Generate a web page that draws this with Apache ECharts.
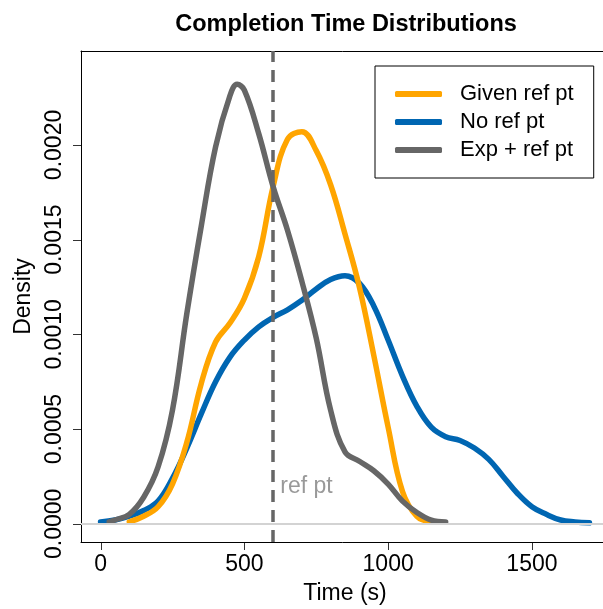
<!DOCTYPE html>
<html>
<head>
<meta charset="utf-8">
<script src="https://cdn.jsdelivr.net/npm/echarts@6/dist/echarts.min.js"></script>
<style>
html,body{margin:0;padding:0;background:#fff;overflow:hidden;}
#chart{width:603px;height:609px;}
</style>
</head>
<body>
<div id="chart"></div>
<script>
// ---- data ----
const seriesNames = ['Given ref pt', 'No ref pt', 'Exp + ref pt'];
const xTicks = [0, 500, 1000, 1500];
const yTicks = [0, 0.0005, 0.0010, 0.0015, 0.0020];
const refPoint = 600;

const givenX = [100,150,200,250,300,350,400,450,500,550,600,650,700,750,800,850,900,950,1000,1050,1100,1150];
const givenY = [0.00001,0.00004,0.00009,0.00021,0.00043,0.00074,0.00096,0.00106,0.00119,0.00141,0.00178,0.00203,0.00207,0.00197,0.00179,0.00153,0.00125,0.00089,0.00051,0.00017,0.00004,0.00001];

const noX = [0,50,100,150,200,250,300,350,400,450,500,550,600,650,700,750,800,850,900,950,1000,1050,1100,1150,1200,1250,1300,1350,1400,1450,1500,1550,1600,1650,1700];
const noY = [0.00001,0.00002,0.00004,0.00007,0.00012,0.00024,0.00040,0.00058,0.00075,0.00088,0.00097,0.00104,0.00109,0.00113,0.00118,0.00124,0.00129,0.00131,0.00127,0.00115,0.00097,0.00078,0.00062,0.00051,0.00046,0.00044,0.00040,0.00034,0.00025,0.00016,0.00009,0.00005,0.00002,0.00001,0.000005];

const expX = [30,50,100,150,200,250,300,350,400,450,475,500,550,600,650,700,750,800,850,900,950,1000,1050,1100,1150,1200];
const expY = [0.00001,0.00002,0.00005,0.00014,0.00030,0.00060,0.00111,0.00157,0.00199,0.00226,0.00232,0.00229,0.00206,0.00178,0.00155,0.00128,0.00098,0.00060,0.00038,0.00033,0.00028,0.00021,0.00012,0.00006,0.00002,0.00001];

// ---- build ----
const zip = (xs, ys) => xs.map((x, i) => [x, ys[i]]);
const colors = ['#FFA500', '#0066B2', '#666666'];
const font = 'Liberation Sans, Arial, Helvetica, sans-serif';
const tickLen = 8;

const chart = echarts.init(document.getElementById('chart'), null, {renderer: 'canvas'});

function curve(name, data, color, z) {
  return {
    name: name, type: 'line', data: data, symbol: 'none', showSymbol: false, smooth: 0.4, z: z,
    lineStyle: {color: color, width: 5.5, cap: 'round', join: 'round'},
    itemStyle: {color: color},
    emphasis: {disabled: true}, animation: false
  };
}

const xRange = {type: 'value', min: -68, max: 1768};
const yMin = -0.000096, yMax = 0.002496;

function buildOption(tickEls) {
  return {
    animation: false,
    backgroundColor: '#fff',
    textStyle: {fontFamily: font},
    title: {
      text: 'Completion Time Distributions',
      left: 341, top: 8, textAlign: 'center',
      textStyle: {fontFamily: font, fontWeight: 'bold', fontSize: 23.5, color: '#000'}
    },
    grid: {left: 81, top: 51, width: 528, height: 491, outerBoundsMode: 'none', containLabel: false, show: false},
    legend: {
      orient: 'vertical', left: 375, top: 66,
      data: seriesNames,
      icon: 'roundRect',
      itemWidth: 47, itemHeight: 6, itemGap: 6,
      padding: [17, 20, 17, 20],
      borderColor: '#000', borderWidth: 1,
      textStyle: {fontFamily: font, fontSize: 22, color: '#000', padding: [0, 0, 0, 13]},
      selectedMode: false
    },
    graphic: {elements: tickEls},
    xAxis: [
      Object.assign({}, xRange, {
        position: 'bottom',
        name: 'Time (s)', nameLocation: 'middle', nameGap: 40,
        nameTextStyle: {fontFamily: font, fontSize: 23, color: '#000'},
        axisLine: {show: true, onZero: false, lineStyle: {color: '#000', width: 1}},
        axisTick: {show: false},
        axisLabel: {show: true, customValues: xTicks, fontFamily: font, fontSize: 23, color: '#000', margin: 11,
          formatter: v => String(v)},
        splitLine: {show: false}
      }),
      Object.assign({}, xRange, {
        position: 'top',
        axisLine: {show: true, onZero: false, lineStyle: {color: '#000', width: 1}},
        axisTick: {show: false}, axisLabel: {show: false}, splitLine: {show: false}
      })
    ],
    yAxis: {
      type: 'value', min: yMin, max: yMax, position: 'left',
      name: 'Density', nameLocation: 'middle', nameGap: 43, nameRotate: 90,
      nameTextStyle: {fontFamily: font, fontSize: 23, color: '#000'},
      axisLine: {show: true, onZero: false, lineStyle: {color: '#000', width: 1}},
      axisTick: {show: false},
      axisLabel: {show: true, customValues: yTicks, rotate: 90, fontFamily: font, fontSize: 23, color: '#000', margin: 15,
        formatter: v => v.toFixed(4)},
      splitLine: {show: false}
    },
    series: [
      {
        name: 'guides', type: 'line', data: [], z: 1, silent: true,
        markLine: {
          silent: true, symbol: 'none', animation: false,
          label: {show: false},
          data: [
            {yAxis: 0, lineStyle: {color: '#D3D3D3', width: 2, type: 'solid'}},
            {xAxis: refPoint, lineStyle: {color: '#666666', width: 3.5, type: [12, 8]}}
          ]
        }
      },
      {
        name: 'refLabel', type: 'scatter', data: [[refPoint + 25, 0.000195]], symbolSize: 0, z: 1, silent: true,
        label: {show: true, position: 'right', distance: 0, formatter: 'ref pt', fontFamily: font, fontSize: 23, color: '#808080'}
      },
      curve(seriesNames[1], zip(noX, noY), colors[1], 2),
      curve(seriesNames[0], zip(givenX, givenY), colors[0], 3),
      curve(seriesNames[2], zip(expX, expY), colors[2], 4)
    ]
  };
}

// first pass: lay out the axes
chart.setOption(buildOption([]));

// tick marks, placed through the axes' own scales, drawn as thin rects
const els = [];
const yBase = chart.convertToPixel({yAxisIndex: 0}, yMin);
const xBase = chart.convertToPixel({xAxisIndex: 0}, xRange.min);
xTicks.forEach(v => {
  const px = Math.round(chart.convertToPixel({xAxisIndex: 0}, v));
  els.push({type: 'rect', shape: {x: px, y: yBase, width: 1, height: tickLen}, style: {fill: '#333'}});
});
yTicks.forEach(v => {
  const py = Math.round(chart.convertToPixel({yAxisIndex: 0}, v));
  els.push({type: 'rect', shape: {x: xBase - tickLen, y: py, width: tickLen, height: 1}, style: {fill: '#333'}});
});

// second pass: full option including the ticks
chart.setOption(buildOption(els), true);
</script>
</body>
</html>
